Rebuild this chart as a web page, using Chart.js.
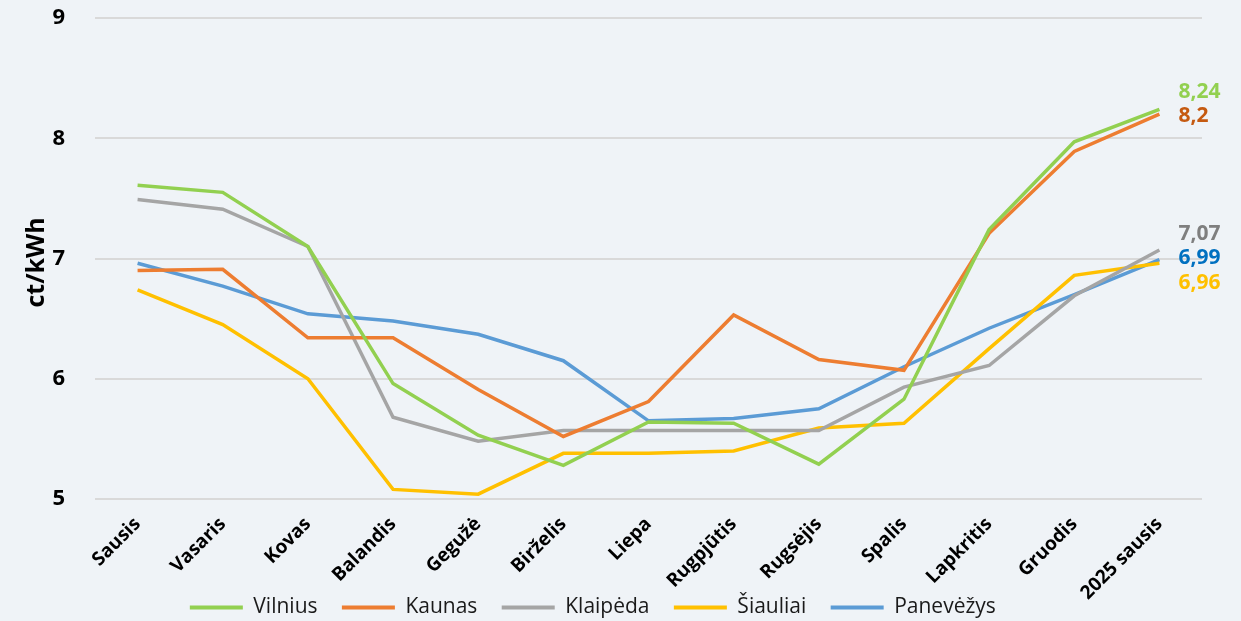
<!DOCTYPE html>
<html>
<head>
<meta charset="utf-8">
<script src="https://cdn.jsdelivr.net/npm/chart.js@4"></script>
<style>
  html, body { margin: 0; padding: 0; background: #eff3f7; }
  #wrap { width: 1241px; height: 621px; position: relative; }
</style>
</head>
<body>
<div id="wrap"><canvas id="myChart"></canvas></div>
<script>
var months = ['Sausis', 'Vasaris', 'Kovas', 'Balandis', 'Gegužė', 'Birželis', 'Liepa',
  'Rugpjūtis', 'Rugsėjis', 'Spalis', 'Lapkritis', 'Gruodis', '2025 sausis'];
var vilnius   = [7.61, 7.55, 7.10, 5.96, 5.53, 5.28, 5.64, 5.63, 5.29, 5.83, 7.24, 7.97, 8.24];
var kaunas    = [6.90, 6.91, 6.34, 6.34, 5.91, 5.52, 5.81, 6.53, 6.16, 6.07, 7.21, 7.89, 8.20];
var klaipeda  = [7.49, 7.41, 7.10, 5.68, 5.48, 5.57, 5.57, 5.57, 5.57, 5.93, 6.11, 6.69, 7.07];
var siauliai  = [6.74, 6.45, 6.00, 5.08, 5.04, 5.38, 5.38, 5.40, 5.59, 5.63, 6.25, 6.86, 6.96];
var panevezys = [6.96, 6.77, 6.54, 6.48, 6.37, 6.15, 5.65, 5.67, 5.75, 6.10, 6.42, 6.70, 6.99];
var yTicks = [5, 6, 7, 8, 9];

// label for last point of each line: text, colour, vertical shift in px
var endLabels = [
  { text: '8,24', color: '#92d050', dy: -17 },
  { text: '8,2',  color: '#c55a11', dy: 2 },
  { text: '7,07', color: '#7f7f7f', dy: -16 },
  { text: '6,99', color: '#0070c0', dy: -5 },
  { text: '6,96', color: '#ffc000', dy: 23 }
];

var endLabelPlugin = {
  id: 'endLabels',
  afterDatasetsDraw: function(chart) {
    var ctx = chart.ctx;
    ctx.save();
    ctx.font = 'bold 21px "Open Sans", sans-serif';
    ctx.textAlign = 'left';
    ctx.textBaseline = 'middle';
    chart.data.datasets.forEach(function(ds, i) {
      var meta = chart.getDatasetMeta(i);
      var pt = meta.data[meta.data.length - 1];
      var lab = endLabels[i];
      ctx.fillStyle = lab.color;
      ctx.fillText(lab.text, pt.x + 19, pt.y + lab.dy);
    });
    ctx.restore();
  }
};

// y axis title, drawn by hand so it can sit close to the tick labels
var yTitlePlugin = {
  id: 'yTitle',
  afterDraw: function(chart) {
    var ctx = chart.ctx;
    var area = chart.chartArea;
    ctx.save();
    ctx.translate(37, (area.top + area.bottom) / 2 + 4);
    ctx.rotate(-Math.PI / 2);
    ctx.font = 'bold 25px "Open Sans", sans-serif';
    ctx.fillStyle = '#000';
    ctx.textAlign = 'center';
    ctx.textBaseline = 'middle';
    ctx.fillText('ct/kWh', 0, 0);
    ctx.restore();
  }
};

function series(label, data, color) {
  return {
    label: label,
    data: data,
    borderColor: color,
    backgroundColor: color,
    borderWidth: 3.5,
    pointRadius: 0,
    tension: 0
  };
}

var ctx = document.getElementById('myChart');
var myChart = new Chart(ctx, {
  type: 'line',
  data: {
    labels: months,
    datasets: [
      series('Vilnius', vilnius, '#92d050'),
      series('Kaunas', kaunas, '#ed7d31'),
      series('Klaipėda', klaipeda, '#a5a5a5'),
      series('Šiauliai', siauliai, '#ffc000'),
      series('Panevėžys', panevezys, '#5b9bd5')
    ]
  },
  options: {
    responsive: true,
    maintainAspectRatio: false,
    animation: false,
    layout: { padding: { left: 0, right: 39, top: 0, bottom: -7 } },
    plugins: {
      tooltip: { enabled: false },
      legend: {
        position: 'bottom',
        labels: {
          boxWidth: 53,
          boxHeight: 4,
          padding: 8,
          color: '#1a1a1a',
          font: { family: '"Open Sans", sans-serif', size: 21 },
          generateLabels: function(chart) {
            var items = Chart.defaults.plugins.legend.labels.generateLabels(chart);
            items.forEach(function(it) {
              it.text = it.text + '   ';
              it.lineWidth = 0;
            });
            return items;
          }
        }
      }
    },
    scales: {
      x: {
        offset: true,
        grid: { display: false },
        border: { display: false },
        afterFit: function(scale) {
          scale.height = 90;
          scale.paddingLeft = 0;
          scale.paddingRight = 0;
          // long rotated labels run past the axis box, do not clip them
          scale._computeLabelArea = function() {};
        },
        ticks: {
          minRotation: 45,
          maxRotation: 45,
          padding: 6,
          color: '#000',
          font: { family: '"Open Sans", sans-serif', size: 19, weight: 'bold' }
        }
      },
      y: {
        min: 5,
        max: 9,
        afterBuildTicks: function(axis) {
          axis.ticks = yTicks.map(function(v) { return { value: v }; });
        },
        afterFit: function(scale) {
          scale.width = 95;
          scale.paddingTop = 18;
          scale.paddingBottom = 0;
        },
        grid: { color: '#d9d9d9', lineWidth: 2, drawTicks: false },
        border: { display: false },
        ticks: {
          padding: 30,
          color: '#000',
          font: { family: '"Open Sans", sans-serif', size: 22, weight: 'bold' }
        }
      }
    }
  },
  plugins: [endLabelPlugin, yTitlePlugin]
});
</script>
</body>
</html>
